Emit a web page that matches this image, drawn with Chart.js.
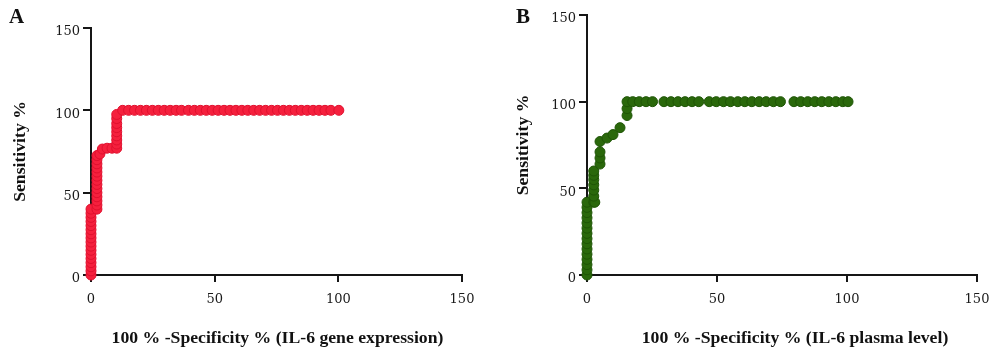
<!DOCTYPE html>
<html>
<head>
<meta charset="utf-8">
<script src="https://cdn.jsdelivr.net/npm/chart.js@4.4.1/dist/chart.umd.min.js"></script>
<style>
  html, body { margin: 0; padding: 0; background: #ffffff; }
  #wrap { position: relative; width: 1000px; height: 358px; overflow: hidden; background: #fff; }
  .panel { position: absolute; top: 0; width: 500px; height: 358px; }
  .letter { position: absolute; top: 4px; font-family: "Liberation Serif", serif; font-weight: bold; font-size: 21px; color: #111; }
</style>
</head>
<body>
<div id="wrap">
  <div class="panel" style="left:0"><canvas id="cA" width="500" height="358"></canvas></div>
  <div class="panel" style="left:500px"><canvas id="cB" width="500" height="358"></canvas></div>
  <div class="letter" style="left:9px">A</div>
  <div class="letter" style="left:516px">B</div>
</div>
<script>
// ---- Data ----
const tickValues = [0, 50, 100, 150];

// Panel A: IL-6 gene expression ROC
const gene_x = [0, 0, 0, 0, 0, 0, 0, 0, 0, 0, 0, 0, 0, 0, 0, 0, 0,
  2.4, 2.4, 2.4, 2.4, 2.4, 2.4, 2.4, 2.4, 2.4, 2.4, 2.4, 2.4, 2.4, 2.4,
  3.6, 4.6, 6.5, 8.5, 10.4,
  10.4, 10.4, 10.4, 10.4, 10.4, 10.4, 10.4, 10.4,
  12.8, 15.2, 17.6, 20.0, 22.4, 24.8, 27.2, 29.6, 32.0, 34.4, 36.6,
  39.4, 41.8, 44.2, 46.6, 49.0, 51.4, 53.8, 56.2, 58.6, 61.0, 63.4, 65.8, 68.2, 70.6,
  73.0, 75.4, 77.8, 80.2, 82.6, 85.0, 87.4, 89.8, 92.2, 94.6, 97.0, 100.2];
const gene_y = [0, 2.5, 5, 7.5, 10, 12.5, 15, 17.5, 20, 22.5, 25, 27.5, 30, 32.5, 35, 37.5, 40,
  40, 42.5, 45, 47.5, 50, 52.5, 55, 57.5, 60, 62.5, 65, 67.5, 70, 72.5,
  73.5, 76.5, 77, 77, 77,
  79.5, 82, 84.5, 87, 89.5, 92, 95, 97.5,
  100, 100, 100, 100, 100, 100, 100, 100, 100, 100, 100,
  100, 100, 100, 100, 100, 100, 100, 100, 100, 100, 100, 100, 100, 100,
  100, 100, 100, 100, 100, 100, 100, 100, 100, 100, 100, 100];

// Panel B: IL-6 plasma level ROC
const plasma_x = [0, 0, 0, 0, 0, 0, 0, 0, 0, 0, 0, 0, 0, 0, 0,
  2.6, 3.0, 2.6, 2.6, 2.6, 2.6, 2.6, 2.6,
  5.0, 5.0, 5.0, 5.0, 7.7, 10.0, 12.7, 15.4, 15.4, 15.4,
  17.6, 20.1, 22.7, 25.2,
  29.6, 32.3, 35.0, 37.7, 40.4, 43.0,
  47.0, 49.7, 52.5, 55.2, 58.0, 60.7, 63.4, 66.2, 68.9, 71.7, 74.4,
  79.6, 82.2, 84.9, 87.6, 90.3, 93.0, 95.7, 98.4, 100.4];
const plasma_y = [0, 3, 6, 9, 12, 15, 18, 21, 24, 27, 30, 33, 36, 39, 42,
  42, 42, 45.5, 49, 52, 55, 57.5, 60,
  64, 67.5, 71, 77, 79, 81, 85, 92, 96, 100,
  100, 100, 100, 100,
  100, 100, 100, 100, 100, 100,
  100, 100, 100, 100, 100, 100, 100, 100, 100, 100, 100,
  100, 100, 100, 100, 100, 100, 100, 100, 100];

const xTitleA = "100 % -Specificity % (IL-6 gene expression)";
const xTitleB = "100 % -Specificity % (IL-6 plasma level)";
const yTitle = "Sensitivity %";

function toPoints(xs, ys) { return xs.map((x, i) => ({x: x, y: ys[i]})); }

const axisColor = '#161616';
const tickFont = {family: "'DejaVu Serif', serif", size: 13};
const titleFont = {family: "'Liberation Serif', serif", size: 17.7, weight: 'bold'};

function makeChart(id, pts, fill, border, opts) {
  return new Chart(document.getElementById(id), {
    type: 'scatter',
    data: { datasets: [{
      data: pts,
      showLine: false,
      pointRadius: 5,
      pointHoverRadius: 5,
      pointBackgroundColor: fill,
      pointBorderColor: border,
      pointBorderWidth: 1,
      clip: false
    }]},
    options: {
      responsive: false,
      animation: false,
      events: [],
      layout: { padding: { left: 0, right: opts.padRight, top: opts.padTop, bottom: 0 } },
      plugins: { legend: { display: false }, tooltip: { enabled: false } },
      scales: {
        x: {
          type: 'linear', min: 0, max: 150,
          afterBuildTicks: (s) => { s.ticks = tickValues.map(v => ({value: v})); },
          afterFit: (s) => { s.height = 83; },
          ticks: { color: '#1a1a1a', font: tickFont, padding: 10, maxRotation: 0 },
          grid: { display: true, drawOnChartArea: false, drawTicks: true, tickLength: 7, color: axisColor, lineWidth: 2 },
          border: { display: true, color: axisColor, width: 2 },
          title: { display: false }
        },
        y: {
          type: 'linear', min: 0, max: 150,
          afterBuildTicks: (s) => { s.ticks = tickValues.map(v => ({value: v})); },
          afterFit: (s) => { s.width = opts.yWidth; },
          ticks: { color: '#1a1a1a', font: tickFont, padding: 3, labelOffset: 4 },
          grid: { display: true, drawOnChartArea: false, drawTicks: true, tickLength: 8, color: axisColor, lineWidth: 2 },
          border: { display: true, color: axisColor, width: 2 },
          title: { display: true, text: yTitle, color: '#111', font: titleFont, padding: { top: opts.yTitlePad, bottom: 0 } }
        }
      }
    },
    plugins: [{
      id: 'xTitle',
      afterDraw(chart) {
        const ctx = chart.ctx, s = chart.scales.x;
        ctx.save();
        ctx.font = 'bold ' + titleFont.size + 'px ' + titleFont.family;
        ctx.fillStyle = '#111';
        ctx.textAlign = 'center';
        ctx.textBaseline = 'middle';
        ctx.fillText(opts.xTitle, (s.left + s.right) / 2 + opts.titleShift, s.bottom - 20);
        ctx.restore();
      }
    }]
  });
}

makeChart('cA', toPoints(gene_x, gene_y), '#f5203d', '#e0102e',
  { padRight: 38, padTop: 28, yWidth: 91, yTitlePad: 10, xTitle: xTitleA, titleShift: 1 });
makeChart('cB', toPoints(plasma_x, plasma_y), '#2a680b', '#1f5506',
  { padRight: 23, padTop: 15, yWidth: 87, yTitlePad: 13, xTitle: xTitleB, titleShift: 13 });
</script>
</body>
</html>
